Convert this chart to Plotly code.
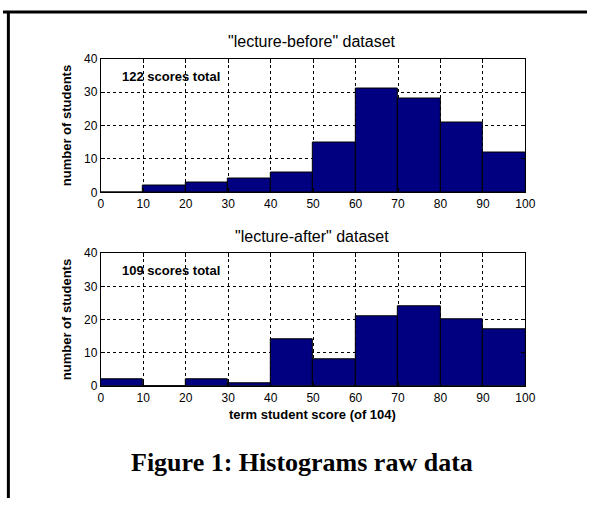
import plotly.graph_objects as go

bin_centers = [5, 15, 25, 35, 45, 55, 65, 75, 85, 95]
before_counts = [0, 2, 3, 4, 6, 15, 31, 28, 21, 12]
after_counts = [2, 0, 2, 1, 14, 8, 21, 24, 20, 17]
x_ticks = [0, 10, 20, 30, 40, 50, 60, 70, 80, 90, 100]
y_ticks = [0, 10, 20, 30, 40]

W, H = 597, 505
def px(x):
    return x / W
def py(y):
    return (H - y) / H

fig = go.Figure()
bar_style = dict(marker=dict(color="#000080", line=dict(color="black", width=1)), width=10, showlegend=False, hoverinfo="x+y")
fig.add_trace(go.Bar(x=bin_centers, y=before_counts, xaxis="x", yaxis="y", **bar_style))
fig.add_trace(go.Bar(x=bin_centers, y=after_counts, xaxis="x2", yaxis="y2", **bar_style))

tickfont = dict(family="Liberation Sans, Arial", size=12, color="black")
ax_common = dict(showline=True, linecolor="black", linewidth=1, mirror="allticks",
                 ticks="inside", ticklen=4, tickcolor="black", tickfont=tickfont,
                 showgrid=True, gridcolor="black", griddash="dot", gridwidth=1,
                 zeroline=False, fixedrange=True)

xdom = [px(100), px(534)]
fig.update_layout(
    width=W, height=H, margin=dict(l=0, r=0, t=0, b=0),
    paper_bgcolor="white", plot_bgcolor="white", bargap=0,
    xaxis=dict(domain=xdom, range=[0, 100], tickvals=x_ticks, anchor="y", **ax_common),
    yaxis=dict(domain=[py(190.7), py(53)], range=[0, 40], tickvals=y_ticks, anchor="x", **ax_common),
    xaxis2=dict(domain=xdom, range=[0, 100], tickvals=x_ticks, anchor="y2", **ax_common),
    yaxis2=dict(domain=[py(390), py(253.3)], range=[0, 40], tickvals=y_ticks, anchor="x2", **ax_common),
)

lab = dict(family="Liberation Sans, Arial", size=13, color="black")
ttl = dict(family="Liberation Sans, Arial", size=16, color="black")
anns = [
    dict(text='"lecture-before" dataset', x=px(316), y=py(35), font=ttl),
    dict(text='"lecture-after" dataset', x=px(316), y=py(236.5), font=ttl),
    dict(text="<b>number of students</b>", x=px(65), y=py(122), font=lab, textangle=-90),
    dict(text="<b>number of students</b>", x=px(65), y=py(321.5), font=lab, textangle=-90),
    dict(text="<b>term student score (of 104)</b>", x=px(316), y=py(419), font=lab),
    dict(text="<b>Figure 1: Histograms raw data</b>", x=px(305.5), y=py(468),
         font=dict(family="Liberation Serif, Times New Roman", size=26, color="black")),
]
for a in anns:
    fig.add_annotation(xref="paper", yref="paper", showarrow=False, xanchor="center", yanchor="middle", **a)

fig.add_annotation(text="<b>122 scores total</b>", x=4.6, y=34.5, xref="x", yref="y",
                   xanchor="left", yanchor="middle", showarrow=False, font=lab)
fig.add_annotation(text="<b>109 scores total</b>", x=4.6, y=34.7, xref="x2", yref="y2",
                   xanchor="left", yanchor="middle", showarrow=False, font=lab)

# frame lines (top and left)
fig.add_shape(type="line", xref="paper", yref="paper", x0=0, x1=1, y0=py(5.2), y1=py(5.2),
              line=dict(color="black", width=3))
fig.add_shape(type="line", xref="paper", yref="paper", x0=px(5.5), x1=px(5.5), y0=0, y1=py(4),
              line=dict(color="black", width=3))

fig.write_html("out.html")
